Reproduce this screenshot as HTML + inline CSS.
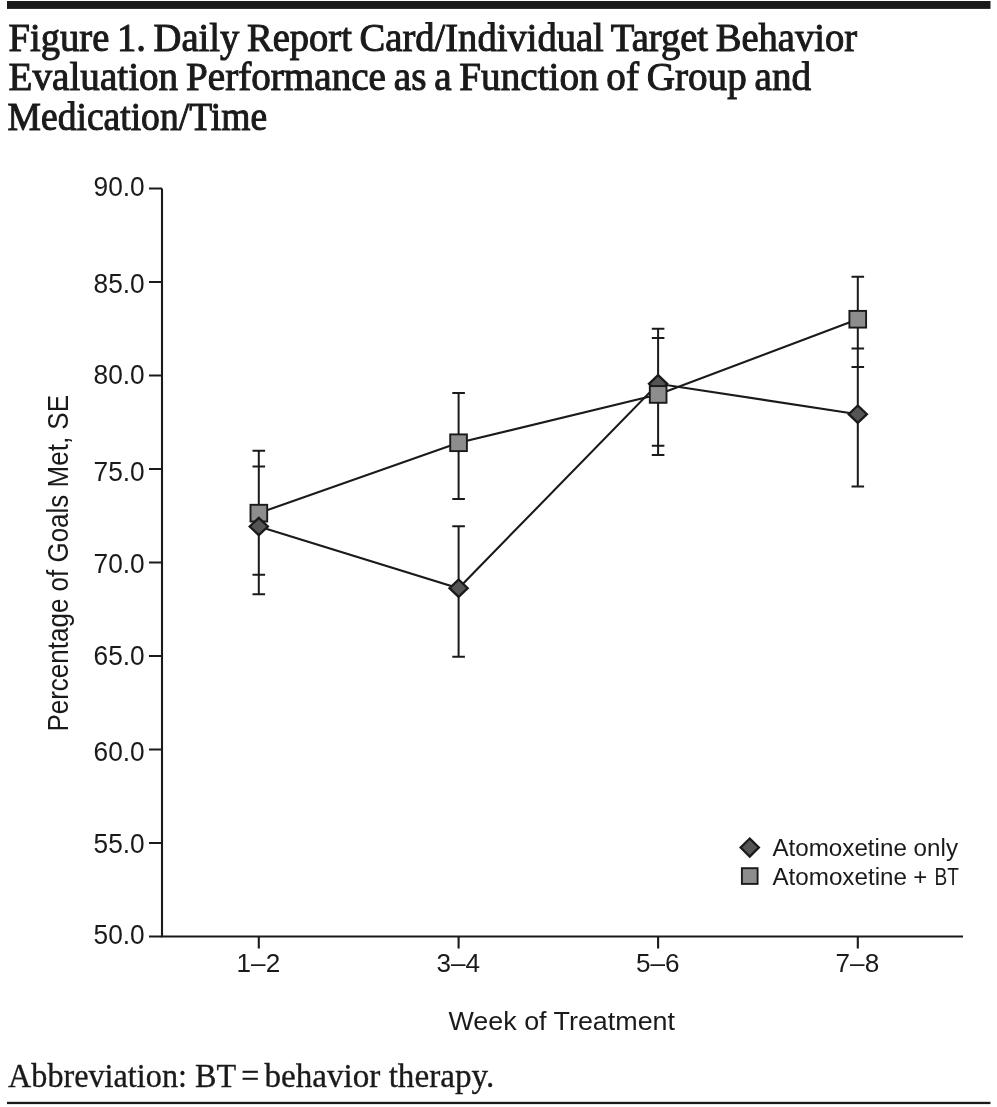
<!DOCTYPE html>
<html lang="en"><head><meta charset="utf-8"><title>Figure 1</title>
<style>
html,body{margin:0;padding:0;background:#fff;}
body{width:997px;height:1107px;overflow:hidden;}
svg{display:block;}
.t{font-family:"Liberation Serif","DejaVu Serif",serif;font-weight:normal;font-size:39.3px;fill:#1a1a1a;stroke:#1a1a1a;stroke-width:1;word-spacing:-2px;}
.f{font-family:"Liberation Serif","DejaVu Serif",serif;font-size:34.5px;fill:#1a1a1a;stroke:#1a1a1a;stroke-width:0.35;}
.s{font-family:"Liberation Sans","DejaVu Sans",sans-serif;fill:#1a1a1a;}
.ax{stroke:#1a1a1a;stroke-width:2.1;fill:none;}
.ln{stroke:#1a1a1a;stroke-width:2.1;fill:none;}
.eb{stroke:#1a1a1a;stroke-width:2;fill:none;}
.sq{fill:#8d8d8d;stroke:#1a1a1a;stroke-width:1.9;}
.di{fill:#555555;stroke:#1a1a1a;stroke-width:2.3;}
</style></head><body>
<svg width="997" height="1107" viewBox="0 0 997 1107">
<rect x="0" y="0" width="997" height="1107" fill="#ffffff"/>
<rect x="7" y="1" width="983.5" height="7.9" fill="#1a1a1a"/>
<rect x="7" y="1101.8" width="983.5" height="2.3" fill="#1a1a1a"/>
<text class="t" x="8.6" y="50.6" textLength="848.5" lengthAdjust="spacingAndGlyphs">Figure 1. Daily Report Card/Individual Target Behavior</text>
<text class="t" x="8.6" y="90.3" textLength="802.5" lengthAdjust="spacingAndGlyphs">Evaluation Performance as a Function of Group and</text>
<text class="t" x="7.6" y="130" textLength="259.5" lengthAdjust="spacingAndGlyphs">Medication/Time</text>
<text class="f" y="1087.4"><tspan x="8" textLength="227.6" lengthAdjust="spacingAndGlyphs">Abbreviation: BT</tspan><tspan> </tspan><tspan x="241.2" textLength="18" lengthAdjust="spacingAndGlyphs">=</tspan><tspan> </tspan><tspan x="264.4" textLength="229.8" lengthAdjust="spacingAndGlyphs">behavior therapy.</tspan></text>
<path class="ax" d="M162.0 188.5 V936.5 H963"/>
<path class="ax" d="M149 188.5 H162.0M149 282.0 H162.0M149 375.5 H162.0M149 469.0 H162.0M149 562.5 H162.0M149 656.0 H162.0M149 749.5 H162.0M149 843.0 H162.0M149 936.5 H162.0"/>
<path class="ax" d="M258.8 936.5 V948.4M458.6 936.5 V948.4M658.1 936.5 V948.4M857.8 936.5 V948.4"/>
<text class="s" x="144.7" y="195.9" font-size="27.4" text-anchor="end" textLength="51.2" lengthAdjust="spacingAndGlyphs">90.0</text>
<text class="s" x="144.7" y="292.8" font-size="27.4" text-anchor="end" textLength="51.2" lengthAdjust="spacingAndGlyphs">85.0</text>
<text class="s" x="144.7" y="384.4" font-size="27.4" text-anchor="end" textLength="51.2" lengthAdjust="spacingAndGlyphs">80.0</text>
<text class="s" x="144.7" y="480.5" font-size="27.4" text-anchor="end" textLength="51.2" lengthAdjust="spacingAndGlyphs">75.0</text>
<text class="s" x="144.7" y="572.8" font-size="27.4" text-anchor="end" textLength="51.2" lengthAdjust="spacingAndGlyphs">70.0</text>
<text class="s" x="144.7" y="665.0" font-size="27.4" text-anchor="end" textLength="51.2" lengthAdjust="spacingAndGlyphs">65.0</text>
<text class="s" x="144.7" y="761.3" font-size="27.4" text-anchor="end" textLength="51.2" lengthAdjust="spacingAndGlyphs">60.0</text>
<text class="s" x="144.7" y="853.4" font-size="27.4" text-anchor="end" textLength="51.2" lengthAdjust="spacingAndGlyphs">55.0</text>
<text class="s" x="144.7" y="944.2" font-size="27.4" text-anchor="end" textLength="51.2" lengthAdjust="spacingAndGlyphs">50.0</text>
<text class="s" x="258.4" y="972.1" font-size="26.2" text-anchor="middle" textLength="43.6" lengthAdjust="spacingAndGlyphs">1–2</text>
<text class="s" x="458.2" y="972.1" font-size="26.2" text-anchor="middle" textLength="43.6" lengthAdjust="spacingAndGlyphs">3–4</text>
<text class="s" x="657.7" y="972.1" font-size="26.2" text-anchor="middle" textLength="43.6" lengthAdjust="spacingAndGlyphs">5–6</text>
<text class="s" x="857.4" y="972.1" font-size="26.2" text-anchor="middle" textLength="43.6" lengthAdjust="spacingAndGlyphs">7–8</text>
<text class="s" x="448.5" y="1030.2" font-size="26.4" textLength="226.5" lengthAdjust="spacingAndGlyphs">Week of Treatment</text>
<text class="s" transform="translate(68.1 731.6) rotate(-90)" font-size="28.6" textLength="336.6" lengthAdjust="spacingAndGlyphs">Percentage of Goals Met, SE</text>
<polyline class="ln" points="258.8,513.1 458.6,442.8 658.1,394.5 857.8,319.3"/>
<polyline class="ln" points="258.8,526.5 458.6,588.2 658.1,383.8 857.8,414.2"/>
<path class="eb" d="M258.8 450.8 V594.2M252.5 450.8 H265.1M252.5 466.4 H265.1M252.5 574.7 H265.1M252.5 594.2 H265.1M458.6 393.1 V498.9 M458.6 526.2 V656.8M452.3 393.1 H464.9M452.3 498.9 H464.9M452.3 526.2 H464.9M452.3 656.8 H464.9M658.1 328.8 V454.9M651.8 328.8 H664.4M651.8 337.9 H664.4M651.8 445.8 H664.4M651.8 454.9 H664.4M857.8 276.7 V486.6M851.5 276.7 H864.1M851.5 348.5 H864.1M851.5 366.9 H864.1M851.5 486.6 H864.1"/>
<rect class="sq" x="250.5" y="504.8" width="16.7" height="16.7"/>
<path class="di" d="M258.80 517.80 L267.90 526.50 L258.80 535.20 L249.70 526.50 Z"/>
<rect class="sq" x="450.2" y="434.4" width="16.7" height="16.7"/>
<path class="di" d="M458.60 579.50 L467.70 588.20 L458.60 596.90 L449.50 588.20 Z"/>
<path class="di" d="M658.10 375.10 L667.20 383.80 L658.10 392.50 L649.00 383.80 Z"/>
<rect class="sq" x="649.8" y="386.1" width="16.7" height="16.7"/>
<rect class="sq" x="849.4" y="310.9" width="16.7" height="16.7"/>
<path class="di" d="M857.80 405.50 L866.90 414.20 L857.80 422.90 L848.70 414.20 Z"/>
<path class="di" d="M749.75 838.55 L758.85 847.55 L749.75 856.55 L740.65 847.55 Z"/>
<rect class="sq" x="741.9" y="868.2" width="15.7" height="15.7"/>
<text class="s" x="772.4" y="855.7" font-size="24.6" textLength="185.6" lengthAdjust="spacingAndGlyphs">Atomoxetine only</text>
<text class="s" y="884.8" font-size="24.6"><tspan x="772.4" textLength="134.6" lengthAdjust="spacingAndGlyphs">Atomoxetine</tspan><tspan> </tspan><tspan x="913.2" textLength="14" lengthAdjust="spacingAndGlyphs">+</tspan><tspan> </tspan><tspan x="934.6" textLength="24.4" lengthAdjust="spacingAndGlyphs">BT</tspan></text>
</svg>
</body></html>
